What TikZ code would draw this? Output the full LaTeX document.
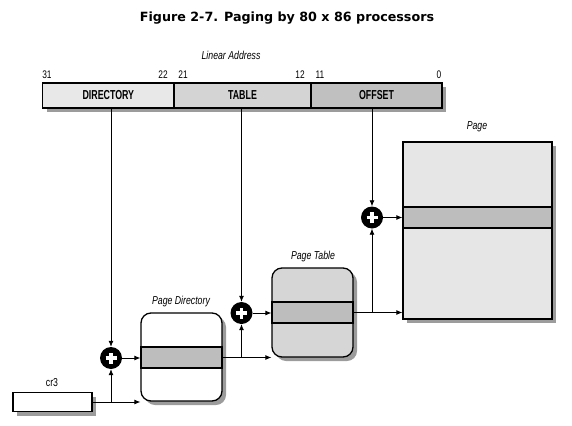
\documentclass[tikz,border=0pt]{standalone}
\usepackage{fontspec}
\setmainfont{Liberation Sans}
\newfontfamily\condfont[FakeStretch=0.76]{Liberation Sans}
\newfontfamily\fieldfont[FakeStretch=0.68]{Liberation Sans}
\newfontfamily\titlefont{DejaVu Sans}
\usetikzlibrary{arrows.meta,shadows}
\definecolor{dirgray}{HTML}{E8E8E8}
\definecolor{tabgray}{HTML}{D4D4D4}
\definecolor{offgray}{HTML}{C0C0C0}
\definecolor{pagegray}{HTML}{E6E6E6}
\definecolor{ptgray}{HTML}{D6D6D6}
\definecolor{rowgray}{HTML}{BDBDBD}
\definecolor{shadowgray}{HTML}{9C9C9C}
\tikzset{
  shade it/.style={drop shadow={shadow xshift=4pt, shadow yshift=-4pt, fill=shadowgray, opacity=1}},
  field/.style={draw, line width=1.3pt, minimum height=25pt, inner sep=0pt, shade it,
    font=\fieldfont\bfseries\fontsize{13}{14}\selectfont},
  table box/.style={draw, line width=1.3pt, rounded corners=10pt, inner sep=0pt, shade it},
  row/.style={draw, line width=1.3pt, fill=rowgray, minimum height=21pt, inner sep=0pt},
  lbl/.style={inner sep=0pt, font=\condfont\itshape\fontsize{11.5}{13}\selectfont},
  bits/.style={inner sep=0pt, font=\condfont\fontsize{11}{13}\selectfont},
  adder/.style={circle, fill=black, minimum size=22pt, inner sep=0pt,
    path picture={
      \draw[white, line width=3.2pt] ([xshift=-5.5pt]path picture bounding box.center) -- ([xshift=5.5pt]path picture bounding box.center);
      \draw[white, line width=3.2pt] ([yshift=-5.5pt]path picture bounding box.center) -- ([yshift=5.5pt]path picture bounding box.center);
    }},
  link/.style={-{Latex[length=6pt,width=5pt]}, line width=0.8pt},
}

\begin{document}
\begin{tikzpicture}[x=1pt, y=-1pt]
  \useasboundingbox (0,0) rectangle (572,425);

  \node[font=\titlefont\bfseries\fontsize{12.7}{14}\selectfont] (title) at (287,18) {Figure 2-7. Paging by 80 x 86 processors};

  % linear address
  \node[lbl] (lin) at (231,55) {Linear Address};
  \node[field, fill=dirgray, minimum width=131.3pt] (dir) at (108.35,95.5) {DIRECTORY};
  \node[field, fill=tabgray, minimum width=137pt] (tab) at (242.5,95.5) {TABLE};
  \node[field, fill=offgray, minimum width=131pt] (off) at (376.5,95.5) {OFFSET};
  \node[bits] (b31) at (47,75) {31};
  \node[bits] (b22) at (163,75) {22};
  \node[bits] (b21) at (183,75) {21};
  \node[bits] (b12) at (300,75) {12};
  \node[bits] (b11) at (320,75) {11};
  \node[bits] (b0) at (439,75) {0};

  % cr3 and tables
  \node[lbl, font=\condfont\fontsize{11.5}{13}\selectfont] (cr3lbl) at (52,383) {cr3};
  \node[draw, line width=1.3pt, fill=white, minimum width=79pt, minimum height=19pt, inner sep=0pt, shade it] (cr3) at (52.5,402) {};

  \node[lbl] (pdlbl) at (181,302) {Page Directory};
  \node[table box, fill=white, minimum width=81pt, minimum height=88pt] (pd) at (181.5,357) {};
  \node[row, minimum width=81pt] (pdrow) at (181.5,357.5) {};

  \node[lbl] (ptlbl) at (313,257) {Page Table};
  \node[table box, fill=ptgray, minimum width=81pt, minimum height=89pt] (pt) at (312.5,312.5) {};
  \node[row, minimum width=81pt] (ptrow) at (312.5,312.5) {};

  \node[lbl] (pglbl) at (477,127) {Page};
  \node[draw, line width=1.3pt, fill=pagegray, minimum width=149pt, minimum height=177pt, inner sep=0pt, shade it] (pg) at (477.5,230.5) {};
  \node[row, minimum width=149pt] (pgrow) at (477.5,217.5) {};

  % adders
  \node[adder] (p1) at (111,358) {};
  \node[adder] (p2) at (241.5,313) {};
  \node[adder] (p3) at (372,217.5) {};

  \coordinate (j1) at (p1 |- cr3.east);
  \coordinate (j2) at (p2 |- pdrow.east);
  \coordinate (j3) at (p3 |- ptrow.east);

  \draw[link] (p1 |- dir.south) -- (p1);
  \draw[link] (p2 |- tab.south) -- (p2);
  \draw[link] (p3 |- off.south) -- (p3);

  \draw[link] (cr3.east) -- (cr3.east -| pd.west);
  \draw[link] (j1) -- (p1);
  \draw[link] (p1) -- (p1 -| pd.west);

  \draw[link] (pdrow.east) -- (pdrow.east -| pt.west);
  \draw[link] (j2) -- (p2);
  \draw[link] (p2) -- (p2 -| pt.west);

  \draw[link] (ptrow.east) -- (ptrow.east -| pg.west);
  \draw[link] (j3) -- (p3);
  \draw[link] (p3) -- (p3 -| pg.west);
\end{tikzpicture}
\end{document}
